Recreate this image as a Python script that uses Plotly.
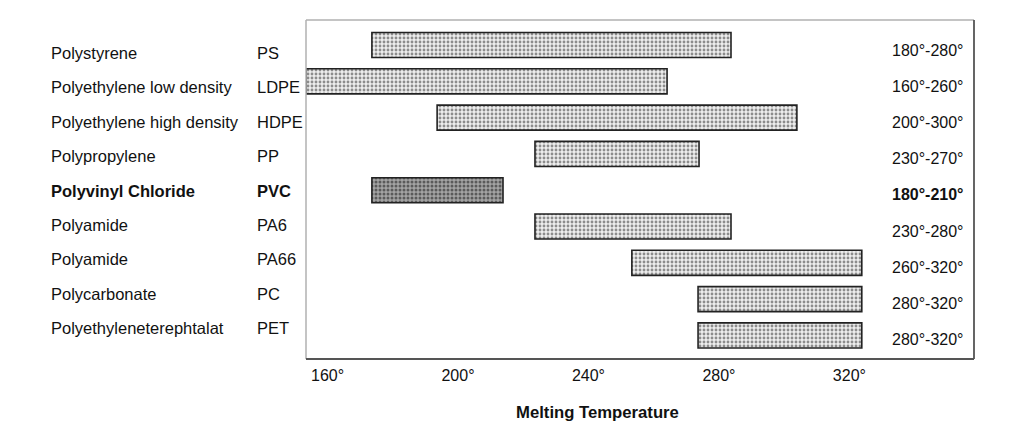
import plotly.graph_objects as go

# ---------------- data ----------------
names = ["Polystyrene", "Polyethylene low density", "Polyethylene high density",
         "Polypropylene", "Polyvinyl Chloride", "Polyamide", "Polyamide",
         "Polycarbonate", "Polyethyleneterephtalat"]
abbrevs = ["PS", "LDPE", "HDPE", "PP", "PVC", "PA6", "PA66", "PC", "PET"]
range_labels = ["180°-280°", "160°-260°", "200°-300°", "230°-270°", "180°-210°",
                "230°-280°", "260°-320°", "280°-320°", "280°-320°"]
# bar extents (on the tick scale)
bar_start = [173.6, 153.4, 193.6, 223.6, 173.6, 223.6, 253.3, 273.6, 273.6]
bar_end = [283.7, 264.1, 303.9, 273.9, 213.8, 283.7, 323.8, 323.8, 323.8]
highlight = "PVC"
tick_vals = [160, 200, 240, 280, 320]
tick_text = ["160°", "200°", "240°", "280°", "320°"]
x_title = "Melting Temperature"

# ---------------- layout constants ----------------
OFF = 8                                  # default page body margin
W, H = 1024 - OFF, 429 - OFF
# plot area in screen pixels, converted to figure pixels
L, R, T, B = 306 - OFF, 974 - OFF, 20 - OFF, 359 - OFF
FONT = "Liberation Sans, Arial, Helvetica, sans-serif"
FS = 16.5

rows = list(range(len(names)))
lengths = [e - s for s, e in zip(bar_start, bar_end)]

fig = go.Figure()
normal = [i for i in rows if abbrevs[i] != highlight]
hl = [i for i in rows if abbrevs[i] == highlight]

fig.add_trace(go.Bar(
    orientation="h",
    y=[rows[i] for i in normal],
    x=[lengths[i] for i in normal],
    base=[bar_start[i] for i in normal],
    width=0.69,
    marker=dict(color="#ffffff",
                line=dict(color="#222222", width=1.6),
                pattern=dict(shape=".", size=4, solidity=0.4,
                             fgcolor="#8c8c8c", bgcolor="#eeeeee",
                             fillmode="replace")),
    hoverinfo="skip", showlegend=False,
))
fig.add_trace(go.Bar(
    orientation="h",
    y=[rows[i] for i in hl],
    x=[lengths[i] for i in hl],
    base=[bar_start[i] for i in hl],
    width=0.69,
    marker=dict(color="#999999",
                line=dict(color="#222222", width=1.6),
                pattern=dict(shape=".", size=4, solidity=0.45,
                             fgcolor="#5a5a5a", bgcolor="#a4a4a4",
                             fillmode="replace")),
    hoverinfo="skip", showlegend=False,
))

pw, ph = R - L, B - T


def px_to_paper_x(px):
    return (px - OFF - L) / pw


def px_to_paper_y(py):
    return 1 - (py - OFF - T) / ph


annotations = []
for i in rows:
    bold = abbrevs[i] == highlight
    ycen = 53 + 34.4 * i
    for txt, xpx in ((names[i], 49), (abbrevs[i], 255)):
        annotations.append(dict(
            text=f"<b>{txt}</b>" if bold else txt,
            xref="paper", yref="paper",
            x=px_to_paper_x(xpx), y=px_to_paper_y(ycen),
            xanchor="left", yanchor="middle", showarrow=False,
            font=dict(family=FONT, size=FS, color="#111111")))
    ycen_r = 50 + 36.2 * i
    annotations.append(dict(
        text=f"<b>{range_labels[i]}</b>" if bold else range_labels[i],
        xref="paper", yref="paper",
        x=px_to_paper_x(890), y=px_to_paper_y(ycen_r),
        xanchor="left", yanchor="middle", showarrow=False,
        font=dict(family=FONT, size=16, color="#111111")))

annotations.append(dict(
    text=f"<b>{x_title}</b>", xref="paper", yref="paper",
    x=px_to_paper_x(597), y=px_to_paper_y(412),
    xanchor="center", yanchor="middle", showarrow=False,
    font=dict(family=FONT, size=16.7, color="#111111")))

shapes = [
    dict(type="line", xref="paper", yref="paper", x0=0, x1=1, y0=1, y1=1,
         line=dict(color="#b0b0b0", width=1.5)),
    dict(type="line", xref="paper", yref="paper", x0=0, x1=0, y0=0, y1=1,
         line=dict(color="#b0b0b0", width=1.5)),
    dict(type="line", xref="paper", yref="paper", x0=1, x1=1, y0=0, y1=1,
         line=dict(color="#555555", width=1.8)),
    dict(type="line", xref="paper", yref="paper", x0=0, x1=1, y0=0, y1=0,
         line=dict(color="#555555", width=1.8)),
]

fig.update_layout(
    width=W, height=H,
    margin=dict(l=L, r=W - R, t=T, b=H - B, pad=0),
    paper_bgcolor="white", plot_bgcolor="white",
    font=dict(family=FONT, size=FS, color="#111111"),
    barmode="overlay",
    showlegend=False,
    annotations=annotations,
    shapes=shapes,
    xaxis=dict(range=[153.4, 358.2], tickvals=tick_vals, ticktext=tick_text,
               showgrid=False, zeroline=False, showline=False, ticks="",
               ticklabelstandoff=5,
               tickfont=dict(family=FONT, size=16, color="#111111"),
               fixedrange=True),
    yaxis=dict(range=[8.65, -0.69], showgrid=False, zeroline=False,
               showline=False, showticklabels=False, ticks="",
               fixedrange=True),
)

fig.write_html("out.html", config={"displayModeBar": False})
